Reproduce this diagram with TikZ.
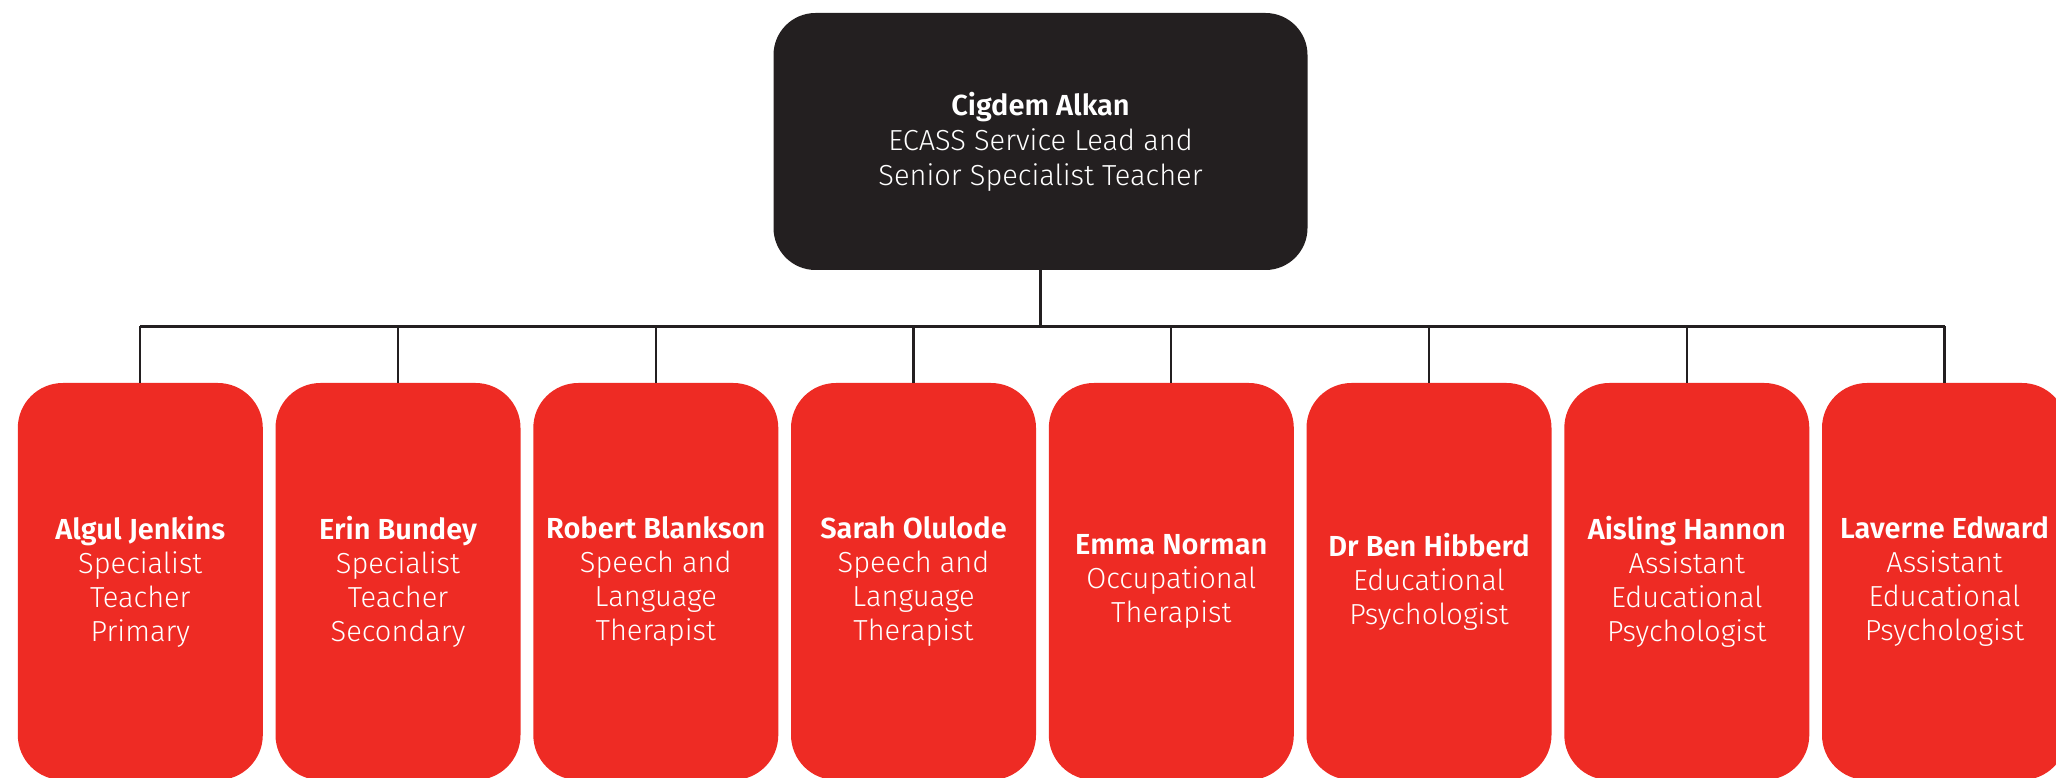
\documentclass[tikz,border=0pt]{standalone}
\usepackage{fontspec}
\setmainfont{Fira Sans Light}[BoldFont=Fira Sans SemiBold]
\definecolor{inkblack}{HTML}{231F20}
\definecolor{ecassred}{HTML}{EE2B24}
\tikzset{
  lead/.style={fill=inkblack, rounded corners=42pt, minimum width=534pt, minimum height=257pt,
    text=white, align=center, font=\fontsize{29}{35}\selectfont},
  staff/.style={fill=ecassred, rounded corners=45pt, minimum width=245pt, minimum height=397pt,
    text=white, align=center, font=\fontsize{29}{34}\selectfont},
  link/.style={draw=inkblack, line width=2.2pt}
}
\begin{document}
\begin{tikzpicture}[x=1pt,y=1pt]
\useasboundingbox (0,0) rectangle (2056,777);
\node[lead] (head) at (1040.5,635.5) {\textbf{Cigdem Alkan}\\ECASS Service Lead and\\Senior Specialist Teacher};
\node[staff] (s1) at (140.3,195.5) {\textbf{Algul Jenkins}\\Specialist\\Teacher\\Primary};
\node[staff] (s2) at (398,195.5) {\textbf{Erin Bundey}\\Specialist\\Teacher\\Secondary};
\node[staff] (s3) at (655.8,195.5) {\textbf{Robert Blankson}\\Speech and\\Language\\Therapist};
\node[staff] (s4) at (913.5,195.5) {\textbf{Sarah Olulode}\\Speech and\\Language\\Therapist};
\node[staff] (s5) at (1171.3,195.5) {\textbf{Emma Norman}\\Occupational\\Therapist};
\node[staff] (s6) at (1429,195.5) {\textbf{Dr Ben Hibberd}\\Educational\\Psychologist};
\node[staff] (s7) at (1686.8,195.5) {\textbf{Aisling Hannon}\\Assistant\\Educational\\Psychologist};
\node[staff] (s8) at (1944.5,195.5) {\textbf{Laverne Edward}\\Assistant\\Educational\\Psychologist};
\coordinate (bus) at (0,450.5);
\draw[link] (head.south) -- (head.south |- bus);
\draw[link] (s1.north |- bus) -- (s8.north |- bus);
\foreach \i in {1,...,8}
  \draw[link] (s\i.north |- bus) -- (s\i.north);
\end{tikzpicture}
\end{document}
